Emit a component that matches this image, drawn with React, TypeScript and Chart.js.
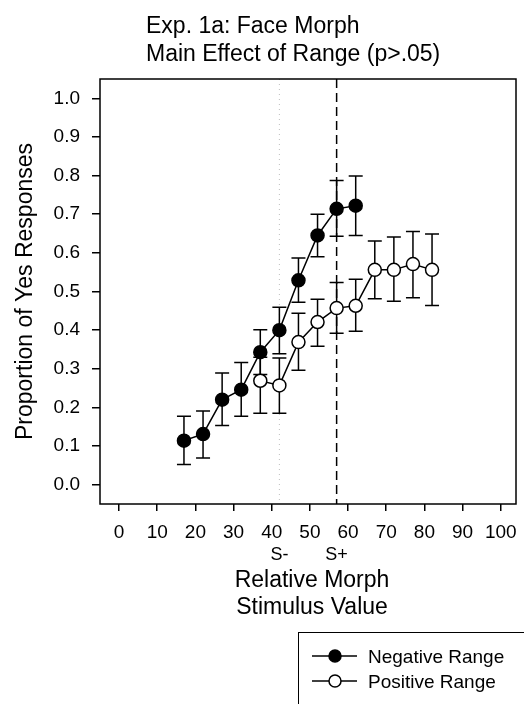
import React, { useEffect, useRef } from "react";
import { Chart, registerables } from "chart.js";

Chart.register(...registerables);

const titleLines = ["Exp. 1a: Face Morph", "Main Effect of Range (p>.05)"];
const yAxisTitle = "Proportion of Yes Responses";
const xAxisTitleLines = ["Relative Morph", "Stimulus Value"];

const xTicks = [0, 10, 20, 30, 40, 50, 60, 70, 80, 90, 100];
const yTicks = [0.0, 0.1, 0.2, 0.3, 0.4, 0.5, 0.6, 0.7, 0.8, 0.9, 1.0];

const sMinus = 42;
const sPlus = 57;
const sLabels = ["S-", "S+"];

const negLabel = "Negative Range";
const negX = [17, 22, 27, 32, 37, 42, 47, 52, 57, 62];
const negY = [0.114, 0.131, 0.22, 0.246, 0.343, 0.4, 0.529, 0.645, 0.714, 0.722];
const negLow = [0.052, 0.069, 0.153, 0.177, 0.285, 0.339, 0.472, 0.59, 0.643, 0.645];
const negHigh = [0.177, 0.191, 0.289, 0.316, 0.401, 0.459, 0.587, 0.7, 0.787, 0.799];

const posLabel = "Positive Range";
const posX = [37, 42, 47, 52, 57, 62, 67, 72, 77, 82];
const posY = [0.269, 0.257, 0.369, 0.421, 0.457, 0.463, 0.556, 0.556, 0.571, 0.556];
const posLow = [0.185, 0.185, 0.296, 0.358, 0.392, 0.397, 0.481, 0.475, 0.484, 0.464];
const posHigh = [0.33, 0.328, 0.444, 0.48, 0.523, 0.532, 0.631, 0.641, 0.655, 0.649];

const FONT = "'Liberation Sans', Arial, Helvetica, sans-serif";

const errorBars = [
  { x: negX, low: negLow, high: negHigh },
  { x: posX, low: posLow, high: posHigh },
];

const customPlugin = {
  id: "custom",
  beforeDatasetsDraw(chart: any) {
    const { ctx, chartArea, scales } = chart;
    const xs = scales.x;
    const ys = scales.y;
    ctx.save();
    const xm = xs.getPixelForValue(sMinus);
    ctx.strokeStyle = "#bdbdbd";
    ctx.lineWidth = 1;
    ctx.setLineDash([1, 4]);
    ctx.beginPath();
    ctx.moveTo(xm, chartArea.top);
    ctx.lineTo(xm, chartArea.bottom);
    ctx.stroke();
    const xp = xs.getPixelForValue(sPlus);
    ctx.strokeStyle = "#000";
    ctx.lineWidth = 1.5;
    ctx.setLineDash([9, 5]);
    ctx.beginPath();
    ctx.moveTo(xp, chartArea.top);
    ctx.lineTo(xp, chartArea.bottom);
    ctx.stroke();
    ctx.setLineDash([]);
    ctx.strokeStyle = "#000";
    ctx.lineWidth = 1.5;
    errorBars.forEach((eb) => {
      eb.x.forEach((xv, i) => {
        const px = xs.getPixelForValue(xv);
        const pl = ys.getPixelForValue(eb.low[i]);
        const ph = ys.getPixelForValue(eb.high[i]);
        ctx.beginPath();
        ctx.moveTo(px, pl);
        ctx.lineTo(px, ph);
        ctx.moveTo(px - 7, pl);
        ctx.lineTo(px + 7, pl);
        ctx.moveTo(px - 7, ph);
        ctx.lineTo(px + 7, ph);
        ctx.stroke();
      });
    });
    ctx.restore();
  },
  afterDraw(chart: any) {
    const { ctx, chartArea, scales } = chart;
    const xs = scales.x;
    ctx.save();
    ctx.strokeStyle = "#000";
    ctx.lineWidth = 1.5;
    ctx.strokeRect(chartArea.left, chartArea.top, chartArea.right - chartArea.left, chartArea.bottom - chartArea.top);

    ctx.fillStyle = "#000";
    ctx.font = `23px ${FONT}`;
    ctx.textAlign = "left";
    ctx.textBaseline = "alphabetic";
    titleLines.forEach((t, i) => ctx.fillText(t, 146, 33 + i * 28));

    ctx.font = `18px ${FONT}`;
    ctx.textAlign = "center";
    ctx.fillText(sLabels[0], xs.getPixelForValue(sMinus), 560);
    ctx.fillText(sLabels[1], xs.getPixelForValue(sPlus), 560);

    ctx.font = `23px ${FONT}`;
    xAxisTitleLines.forEach((t, i) => ctx.fillText(t, 312, 587 + i * 27));

    ctx.save();
    ctx.translate(26, (chartArea.top + chartArea.bottom) / 2);
    ctx.rotate(-Math.PI / 2);
    ctx.textBaseline = "middle";
    ctx.fillText(yAxisTitle, 0, 0);
    ctx.restore();

    ctx.lineWidth = 1;
    ctx.strokeRect(298.5, 632.5, 260, 100);
    const items = [
      { label: negLabel, fill: "#000", y: 663 },
      { label: posLabel, fill: "#fff", y: 688 },
    ];
    items.forEach((it) => {
      const cy = it.y - 7;
      ctx.strokeStyle = "#000";
      ctx.lineWidth = 1.5;
      ctx.beginPath();
      ctx.moveTo(312, cy);
      ctx.lineTo(357, cy);
      ctx.stroke();
      ctx.beginPath();
      ctx.arc(335, cy, 6, 0, Math.PI * 2);
      ctx.fillStyle = it.fill;
      ctx.fill();
      ctx.stroke();
      ctx.fillStyle = "#000";
      ctx.font = `19px ${FONT}`;
      ctx.textAlign = "left";
      ctx.textBaseline = "alphabetic";
      ctx.fillText(it.label, 368, it.y);
    });
    ctx.restore();
  },
};

export default function App() {
  const ref = useRef<HTMLCanvasElement | null>(null);
  useEffect(() => {
    if (!ref.current) return;
    const chart = new Chart(ref.current, {
      type: "line",
      data: {
        datasets: [
          {
            label: negLabel,
            data: negX.map((x, i) => ({ x, y: negY[i] })),
            borderColor: "#000",
            borderWidth: 1.5,
            backgroundColor: "#000",
            pointBackgroundColor: "#000",
            pointBorderColor: "#000",
            pointRadius: 6.5,
            pointBorderWidth: 1.5,
            tension: 0,
          },
          {
            label: posLabel,
            data: posX.map((x, i) => ({ x, y: posY[i] })),
            borderColor: "#000",
            borderWidth: 1.5,
            backgroundColor: "#fff",
            pointBackgroundColor: "#fff",
            pointBorderColor: "#000",
            pointRadius: 6.5,
            pointBorderWidth: 1.5,
            tension: 0,
          },
        ],
      },
      options: {
        responsive: false,
        animation: false,
        layout: { padding: { top: 79, right: 4, left: 0, bottom: 0 } },
        plugins: {
          legend: { display: false },
          title: { display: false },
          tooltip: { enabled: false },
        },
        scales: {
          x: {
            type: "linear",
            min: -5,
            max: 104,
            afterBuildTicks: (s: any) => {
              s.ticks = xTicks.map((v) => ({ value: v }));
            },
            afterFit: (s: any) => {
              s.height = 200;
              s.paddingLeft = 0;
              s.paddingRight = 0;
            },
            ticks: {
              color: "#000",
              font: { size: 19, family: FONT },
              padding: 10,
              maxRotation: 0,
              autoSkip: false,
              callback: (v: any) => String(v),
            },
            grid: { drawOnChartArea: false, tickLength: 7, color: "#000", lineWidth: 1.5 },
            border: { display: false },
          },
          y: {
            type: "linear",
            min: -0.05,
            max: 1.05,
            afterBuildTicks: (s: any) => {
              s.ticks = yTicks.map((v) => ({ value: v }));
            },
            afterFit: (s: any) => {
              s.width = 100;
              s.paddingTop = 0;
              s.paddingBottom = 0;
            },
            ticks: {
              color: "#000",
              font: { size: 19, family: FONT },
              padding: 12,
              autoSkip: false,
              callback: (v: any) => Number(v).toFixed(1),
            },
            grid: { drawOnChartArea: false, tickLength: 8, color: "#000", lineWidth: 1.5 },
            border: { display: false },
          },
        },
      },
      plugins: [customPlugin],
    });
    return () => chart.destroy();
  }, []);
  return (
    <div style={{ position: "absolute", left: 0, top: 0, width: 524, height: 704, background: "#fff" }}>
      <canvas ref={ref} width={524} height={704} style={{ display: "block" }} />
    </div>
  );
}
